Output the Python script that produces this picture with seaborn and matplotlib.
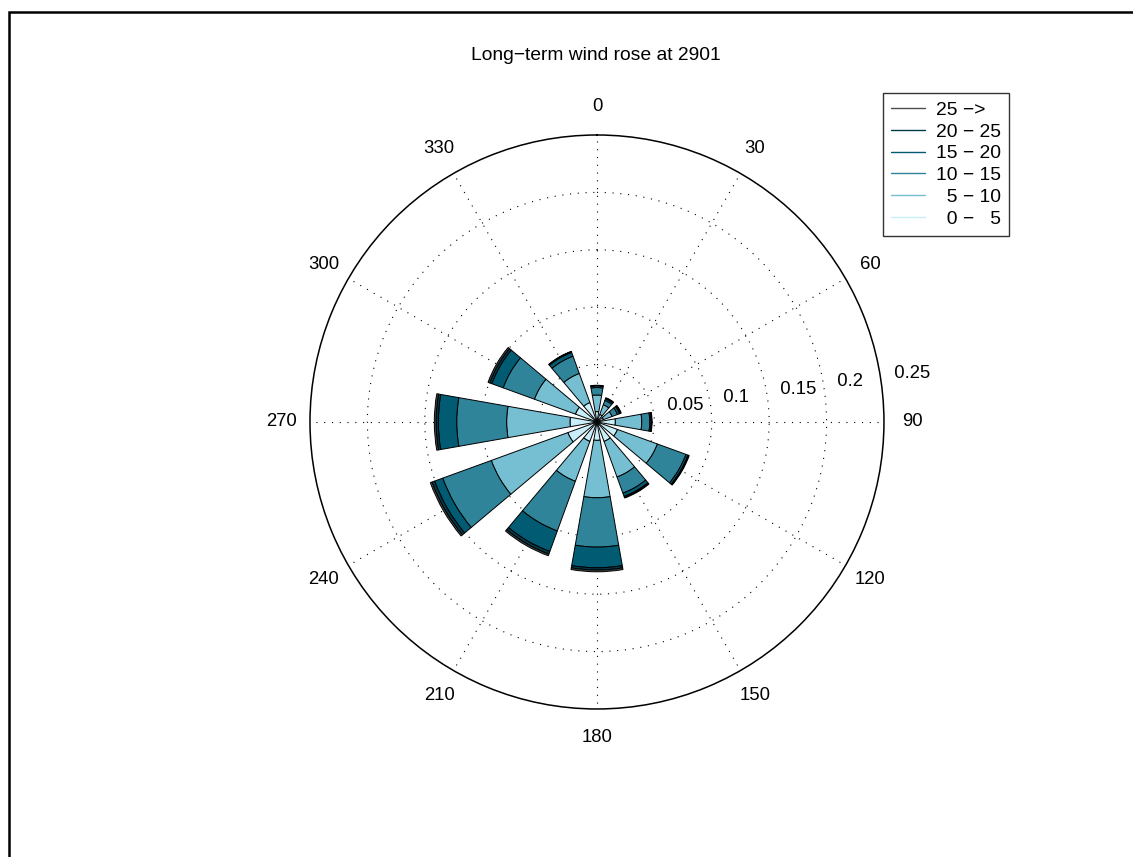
import numpy as np
import matplotlib
matplotlib.use("Agg")
import matplotlib.pyplot as plt
from matplotlib.lines import Line2D
from matplotlib.patches import Rectangle
import seaborn as sns

# Wind direction sectors (degrees, clockwise from north)
directions = [0, 30, 60, 90, 120, 150, 180, 210, 240, 270, 300, 330]

# Frequency of each speed class per sector
freq_0_5 = [0.009, 0.007, 0.006, 0.016, 0.019, 0.018, 0.016, 0.018, 0.027, 0.0235, 0.020, 0.018]
freq_5_10 = [0.0145, 0.009, 0.008, 0.023, 0.037, 0.033, 0.050, 0.037, 0.071, 0.0552, 0.038, 0.027]
freq_10_15 = [0.0065, 0.004, 0.005, 0.007, 0.0265, 0.015, 0.043, 0.046, 0.045, 0.0435, 0.029, 0.016]
freq_15_20 = [0.0015, 0.0015, 0.002, 0.0012, 0.0018, 0.003, 0.018, 0.019, 0.0075, 0.016, 0.0105, 0.0035]
freq_20_25 = [0.0003, 0.0005, 0.0008, 0.0004, 0.0005, 0.0008, 0.002, 0.0025, 0.0025, 0.002, 0.002, 0.0005]
freq_25_up = [0.0002, 0.0005, 0.0007, 0.0004, 0.0007, 0.0007, 0.0015, 0.0015, 0.0015, 0.0015, 0.0015, 0.0005]

speed_labels = ["  0 \u2212   5", "  5 \u2212 10", "10 \u2212 15", "15 \u2212 20", "20 \u2212 25", "25 \u2212>"]
radial_ticks = [0.05, 0.1, 0.15, 0.2, 0.25]
radial_labels = ["0.05", "0.1", "0.15", "0.2", "0.25"]
angle_ticks = [0, 30, 60, 90, 120, 150, 180, 210, 240, 270, 300, 330]

sns.set_style("white")
plt.rcParams["font.family"] = ["Liberation Sans", "DejaVu Sans"]
plt.rcParams["text.color"] = "black"
FS = 13.3
FS_BIG = 13.9

palette = sns.color_palette(["#c8eef9", "#76bfd3", "#2f849a", "#005b73", "#003a4b", "#4d4d4d"])

fig = plt.figure(figsize=(11.33, 8.57), dpi=100)
ax = fig.add_axes([0.2736, 0.1727, 0.5066, 0.6698], projection="polar")
ax.set_theta_zero_location("N")
ax.set_theta_direction(-1)
ax.set_ylim(0, 0.25)

theta = np.deg2rad(directions)
width = np.deg2rad(20)
series = [freq_0_5, freq_5_10, freq_10_15, freq_15_20, freq_20_25, freq_25_up]
bottom = np.zeros(len(directions))
for vals, col in zip(series, palette):
    vals = np.asarray(vals)
    ax.bar(theta, vals, width=width, bottom=bottom, color=col,
           edgecolor="black", linewidth=0.7, zorder=2)
    bottom = bottom + vals

# dotted grid
ax.set_rticks(radial_ticks[:-1])
ax.set_thetagrids(angle_ticks)
ax.set_xticklabels([])
ax.set_yticklabels([])
ax.grid(True, color="black", linestyle=(0, (1, 6)), linewidth=0.8)
ax.set_axisbelow(True)
ax.spines["polar"].set_linewidth(1.1)
ax.spines["polar"].set_color("black")

rmax = 0.25
for a in angle_ticks:
    ax.text(np.deg2rad(a), rmax * 1.1, str(a), ha="center", va="center",
            fontsize=FS, color="black", clip_on=False)
for v, lab in zip(radial_ticks, radial_labels):
    ax.text(np.deg2rad(82), v + rmax / 100, "  " + lab, ha="left", va="bottom",
            fontsize=FS, color="black", clip_on=False)

fig.text(596 / 1133, 1 - 56 / 857, "Long\u2212term wind rose at 2901",
         ha="center", va="center", fontsize=FS_BIG, color="black")

handles = [Line2D([0], [0], color=c, linewidth=1.0) for c in palette][::-1]
leg = fig.legend(handles, speed_labels[::-1], loc="upper left",
                 bbox_to_anchor=(882.7 / 1133, 1 - 93.3 / 857),
                 bbox_transform=fig.transFigure, borderaxespad=0,
                 fontsize=FS_BIG, frameon=True, fancybox=False, shadow=False,
                 handlelength=1.75, handletextpad=0.6, borderpad=0.42,
                 labelspacing=0.22)
leg.get_frame().set_edgecolor("black")
leg.get_frame().set_linewidth(1.0)
for t in leg.get_texts():
    t.set_color("black")

# outer frame around the figure area
fig.patches.append(Rectangle((8.5 / 1133, -0.05), 1.2, 1 - 12 / 857 + 0.05,
                             transform=fig.transFigure, fill=False,
                             edgecolor="black", linewidth=1.8))

fig.savefig("out.png", dpi=100)
